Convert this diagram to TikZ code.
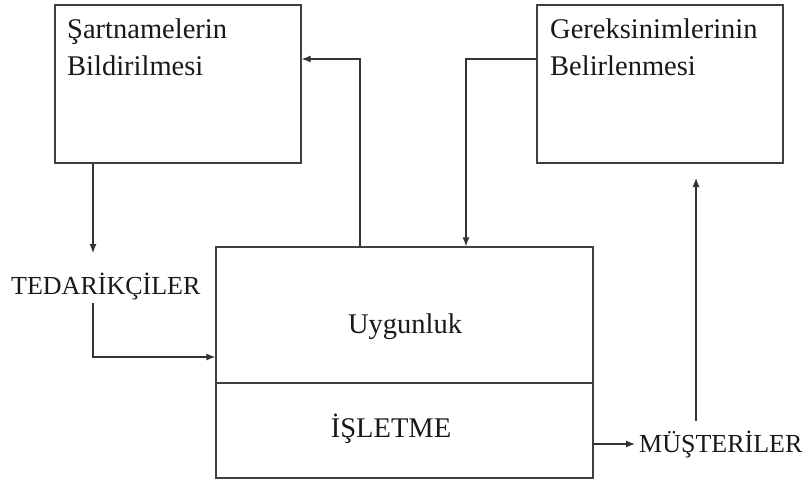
\documentclass[tikz,border=0pt]{standalone}
\usepackage{fontspec}
\setmainfont{Liberation Serif}
\usetikzlibrary{arrows.meta}
\begin{document}
\begin{tikzpicture}[x=1pt,y=-1pt,
  box/.style={draw=black!75,line width=1.3pt,rectangle,inner sep=0pt},
  arr/.style={draw=black!80,line width=1.2pt,-{Latex[length=9pt,width=7pt]}},
  big/.style={font=\fontsize{28.5}{37}\selectfont,inner sep=0pt,text=black!90},
  small/.style={font=\fontsize{26}{32}\selectfont,inner sep=0pt,text=black!90}]
\useasboundingbox[fill=white] (0,0) rectangle (806,482);

% top boxes
\node[box,minimum width=246pt,minimum height=158pt] (sb) at (178,84) {};
\node[box,minimum width=246pt,minimum height=158pt] (gb) at (660,84) {};
\node[big,anchor=base west] (sb1) at (67,38) {Şartnamelerin};
\node[big,anchor=base west] (sb2) at (67,75) {Bildirilmesi};
\node[big,anchor=base west] (gb1) at (550,38) {Gereksinimlerinin};
\node[big,anchor=base west] (gb2) at (550,75) {Belirlenmesi};

% central two-part box
\node[box,minimum width=377pt,minimum height=136pt] (uy) at (404.5,315) {};
\node[box,minimum width=377pt,minimum height=95pt] (is) at (404.5,430.5) {};
\node[big,anchor=base] (uyt) at (405,333) {Uygunluk};
\node[big,anchor=base] (ist) at (391,437) {İŞLETME};

% outside labels
\node[small,anchor=base west] (ted) at (11,294) {TEDARİKÇİLER};
\node[small,anchor=base west] (mus) at (639,452) {MÜŞTERİLER};

% connector bend points and free ends
\coordinate (tin) at (93,253);
\coordinate (tout) at (93,303);
\coordinate (ein) at (216,357);
\coordinate (up) at (360,59);
\coordinate (dn) at (466,59);
\coordinate (out) at (635,444);
\coordinate (mbot) at (696,421);
\coordinate (mtop) at (696,178);

% connectors
\draw[arr] (sb.south -| tin) -- (tin);
\draw[arr] (tout) |- (uy.west |- ein);
\draw[arr] (uy.north -| up) -- (up) -- (sb.east |- up);
\draw[arr] (gb.west |- dn) -- (dn) -- (uy.north -| dn);
\draw[arr] (is.east |- out) -- (out);
\draw[arr] (mbot) -- (mtop);
\end{tikzpicture}
\end{document}
